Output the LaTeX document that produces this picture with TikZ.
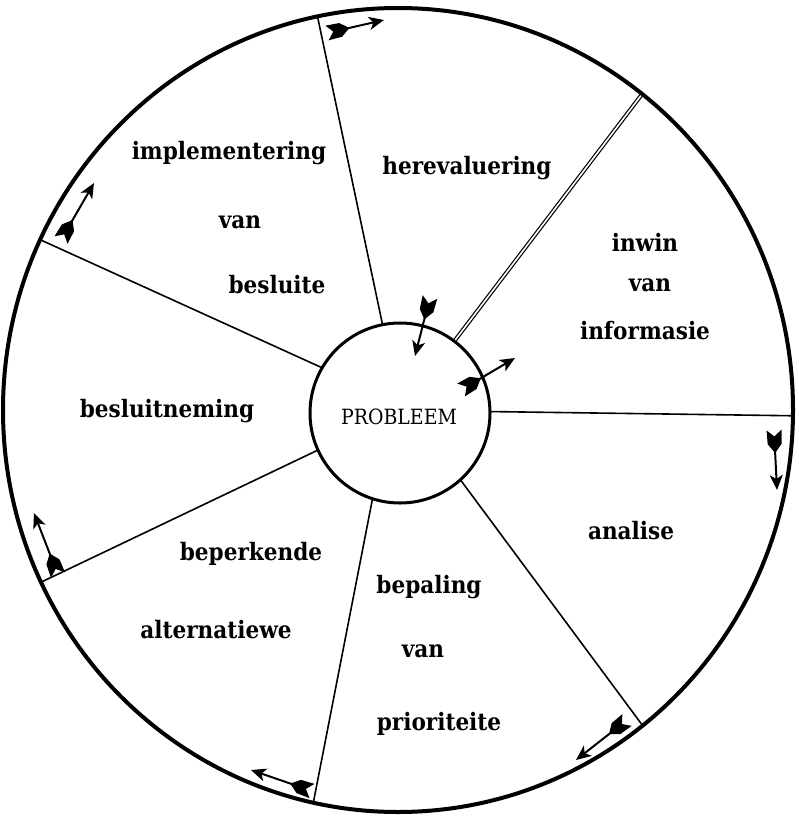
\documentclass[tikz,border=0pt]{standalone}
\usepackage{fontspec}
\setmainfont{DejaVu Serif}
\newfontfamily\lbfont{DejaVu Serif Condensed}
\usetikzlibrary{arrows.meta,calc}
\begin{document}
\begin{tikzpicture}[x=1pt,y=-1pt,
  outerring/.style={line width=4pt},
  corering/.style={circle, draw, line width=3pt, fill=white, minimum size=180pt, inner sep=0pt},
  spoke/.style={line width=1.6pt},
  dspoke/.style={double=white, double distance=1.6pt, line width=1.2pt},
  shaft/.style={line width=2pt, -{Stealth[length=15pt,width=13pt,inset=4pt]}},
  pics/fletch/.style={code={
    \fill (0,7.5) -- (6.5,0) -- (0,-7.5) -- (14,-7) -- (23,0) -- (14,7) -- cycle;
  }},
  lbl/.style={font=\lbfont\bfseries\fontsize{24}{28}\selectfont, anchor=base, inner sep=0pt},
  prob/.style={font=\lbfont\fontsize{21}{24}\selectfont, anchor=base, inner sep=0pt}
]
\useasboundingbox (0,0) rectangle (798,816);
\coordinate (O) at (398,410);
\coordinate (C) at (400,413);

% spokes
\coordinate (s1a) at (314,0);   \coordinate (s1b) at (390,360);
\coordinate (s2a) at (668,60);  \coordinate (s2b) at (440,360);
\coordinate (s3a) at (810,416); \coordinate (s3b) at (450,411);
\coordinate (s4a) at (660,749); \coordinate (s4b) at (422,428);
\coordinate (s5a) at (308,830); \coordinate (s5b) at (382,450);
\coordinate (s6a) at (10,597);  \coordinate (s6b) at (360,430);
\coordinate (s7a) at (10,226);  \coordinate (s7b) at (360,385);
\begin{scope}
  \clip (O) ellipse [x radius=395pt, y radius=402pt];
  \draw[spoke] (s1a) -- (s1b);
  \draw[dspoke] (s2a) -- (s2b);
  \draw[spoke] (s3a) -- (s3b);
  \draw[spoke] (s4a) -- (s4b);
  \draw[spoke] (s5a) -- (s5b);
  \draw[spoke] (s6a) -- (s6b);
  \draw[spoke] (s7a) -- (s7b);
\end{scope}

\node[corering] (core) at (C) {};
\node[prob] (ptxt) at (399,424) {PROBLEEM};
\draw[outerring] (O) ellipse [x radius=395pt, y radius=402pt];

% arrows
\coordinate (a1t) at (327,33);  \coordinate (a1h) at (384,20);
\coordinate (a2t) at (430,297); \coordinate (a2h) at (415,356);
\coordinate (a3t) at (461,390); \coordinate (a3h) at (515,358);
\coordinate (a4t) at (774,430); \coordinate (a4h) at (777,490);
\coordinate (a5t) at (627,720); \coordinate (a5h) at (576,760);
\coordinate (a6t) at (312,791); \coordinate (a6h) at (251,770);
\coordinate (a7t) at (58,575);  \coordinate (a7h) at (34,513);
\coordinate (a8t) at (61,240);  \coordinate (a8h) at (94,183);
\foreach \i in {1,...,8} {
  \draw[shaft] ($(a\i t)!8pt!(a\i h)$) -- (a\i h);
  \path let \p1=($(a\i h)-(a\i t)$), \n1={atan2(\y1,\x1)} in
    pic[rotate=\n1] at (a\i t) {fletch};
}

% labels
\node[lbl] (t1) at (229,159) {implementering};
\node[lbl] (t2) at (240,228) {van};
\node[lbl] (t3) at (277,293) {besluite};
\node[lbl] (t4) at (467,174) {herevaluering};
\node[lbl] (t5) at (645,251) {inwin};
\node[lbl] (t6) at (650,291) {van};
\node[lbl] (t7) at (645,339) {informasie};
\node[lbl] (t8) at (167,417) {besluitneming};
\node[lbl] (t9) at (631,539) {analise};
\node[lbl] (t10) at (251,560) {beperkende};
\node[lbl] (t11) at (216,638) {alternatiewe};
\node[lbl] (t12) at (429,593) {bepaling};
\node[lbl] (t13) at (423,657) {van};
\node[lbl] (t14) at (439,730) {prioriteite};
\end{tikzpicture}
\end{document}
